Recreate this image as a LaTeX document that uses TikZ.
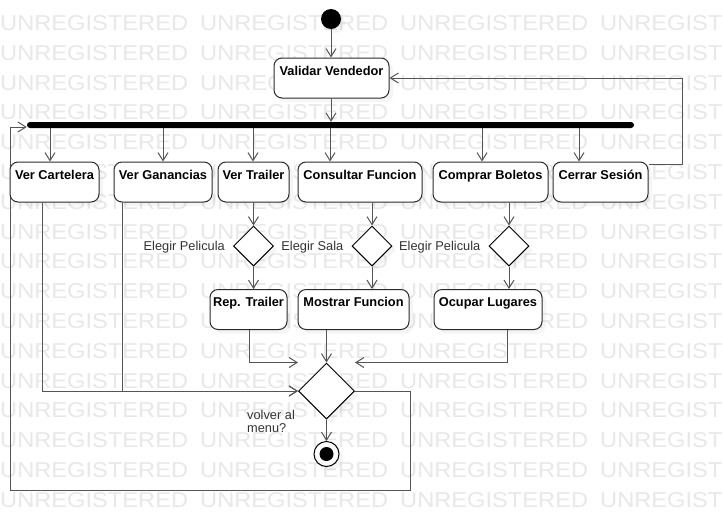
\documentclass[tikz,border=0pt]{standalone}
\usepackage{fontspec}
\setmainfont{Liberation Sans}
\usetikzlibrary{arrows.meta,shadows,shapes.geometric}
\pgfdeclarelayer{marklayer}
\pgfdeclarelayer{linklayer}
\pgfsetlayers{marklayer,linklayer,main}
\definecolor{linkgray}{HTML}{555555}
\definecolor{boxline}{HTML}{2B2B2B}
\definecolor{markgray}{HTML}{E8E8E8}
\definecolor{labelgray}{HTML}{333333}

\tikzset{
  softshadow/.style={drop shadow={shadow xshift=4pt, shadow yshift=-4pt, opacity=0.08}},
  act/.style={draw=boxline, line width=1pt, fill=white, rounded corners=8pt,
    inner xsep=3pt, inner ysep=4pt, text height=13pt, text depth=19pt,
    minimum height=40pt, font=\fontsize{12.8}{14}\selectfont\bfseries, softshadow},
  choice/.style={diamond, draw=black, line width=1pt, fill=white, aspect=1,
    minimum width=40pt, minimum height=40pt, inner sep=0pt, softshadow},
  link/.style={draw=linkgray, line width=1pt, -{Straight Barb[length=8pt,width=10pt]}},
  guard/.style={font=\fontsize{12.8}{13}\selectfont, text=labelgray, inner sep=0pt},
  markword/.style={anchor=base west, inner sep=0pt, text=markgray,
    font=\fontsize{21.5}{22}\selectfont, xscale=1.1},
}

\begin{document}
\begin{tikzpicture}[x=1pt, y=-1pt]
\useasboundingbox (0,0) rectangle (723,531);

% white sheet and background lettering
\begin{pgfonlayer}{marklayer}
  \fill[white] (0,0) rectangle (723,531);
  \begin{scope}
    \clip (0,0) rectangle (723,531);
    \foreach \r in {0,...,16}
      \foreach \c in {0,...,3}
        \node[markword] (w-\r-\c) at (\c*200, 30.5+\r*29.8) {UNREGISTERED};
  \end{scope}
\end{pgfonlayer}

% start, actions and fork bar
\node[circle, fill=black, minimum size=20pt, inner sep=0pt, softshadow] (start) at (331,19) {};
\node[act, minimum width=115pt] (valid) at (331.5,78) {Validar Vendedor};
\node[fill=black, rounded corners=3pt, minimum width=607pt, minimum height=6pt, inner sep=0pt] (bar) at (330.5,125) {};

\node[act, minimum width=89pt]  (cart)  at (54.5,182)  {Ver Cartelera};
\node[act, minimum width=98pt]  (gan)   at (163,182)   {Ver Ganancias};
\node[act, minimum width=71pt]  (trail) at (253.5,182) {Ver Trailer};
\node[act, minimum width=124pt] (cons)  at (360,182)   {Consultar Funcion};
\node[act, minimum width=115pt] (comp)  at (490.5,182) {Comprar Boletos};
\node[act, minimum width=95pt]  (cerr)  at (600.5,182) {Cerrar Sesión};

% decisions
\node[choice] (d1) at (253.5,246) {};
\node[choice] (d2) at (372,246) {};
\node[choice] (d3) at (509,246) {};

\node[guard, anchor=east] (g1) at ([xshift=-8pt, yshift=-1.5pt]d1.west) {Elegir Pelicula};
\node[guard, anchor=east] (g2) at ([xshift=-8pt, yshift=-1.5pt]d2.west) {Elegir Sala};
\node[guard, anchor=east] (g3) at ([xshift=-8pt, yshift=-1.5pt]d3.west) {Elegir Pelicula};

\node[act, minimum width=77pt]  (rep)  at (248.5,309.5) {Rep. Trailer};
\node[act, minimum width=111pt] (most) at (353.5,309.5) {Mostrar Funcion};
\node[act, minimum width=108pt] (ocup) at (488,309.5)   {Ocupar Lugares};

% merge and end
\node[choice, minimum width=56pt, minimum height=56pt] (merge) at (326.5,391) {};
\node[guard, anchor=north west, align=left] (g4) at (247,410.5) {volver al\\menu?};
\node[circle, draw=black, line width=1pt, fill=white, minimum size=25pt, inner sep=0pt, softshadow] (stop) at (326.5,454) {};
\node[circle, fill=black, minimum size=14pt, inner sep=0pt] (stopdot) at (stop) {};

% connectors
\coordinate (k1) at (50,0);
\coordinate (k2) at (163,0);
\coordinate (k3) at (253,0);
\coordinate (k4) at (330,0);
\coordinate (k5) at (482,0);
\coordinate (k6) at (579,0);
\coordinate (m1) at (42,0);
\coordinate (m2) at (122,0);
\coordinate (m3) at (249,0);
\coordinate (m4) at (507,0);
\coordinate (mnw) at (merge.west |- merge.north);
\coordinate (mne) at (merge.east |- merge.north);
\coordinate (ret) at (682,78);
\coordinate (lpA) at (410,490);
\coordinate (lpB) at (10,490);

\begin{pgfonlayer}{linklayer}
  \draw[link] (start.south) -- (valid.north -| start.south);
  \draw[link] (valid.south -| start.south) -- (bar.north -| start.south);
  \foreach \c/\n in {k1/cart, k2/gan, k3/trail, k4/cons, k5/comp, k6/cerr}
    \draw[link] (bar.south -| \c) -- (\n.north -| \c);

  \draw[link] (trail.south -| d1.north) -- (d1.north);
  \draw[link] (d1.south) -- (rep.north -| d1.south);
  \draw[link] (cons.south -| d2.north) -- (d2.north);
  \draw[link] (d2.south) -- (most.north -| d2.south);
  \draw[link] (comp.south -| d3.north) -- (d3.north);
  \draw[link] (d3.south) -- (ocup.north -| d3.south);

  \draw[link] (cart.south -| m1) |- (merge.west);
  \draw[link] (gan.south -| m2) |- (merge.west);
  \draw[link] (rep.south -| m3) |- (mnw);
  \draw[link] (most.south -| merge.north) -- (merge.north);
  \draw[link] (ocup.south -| m4) |- (mne);
  \draw[link] (merge.south) -- (stop.north);

  \draw[link] (merge.east) -| (lpA) -- (lpB) |- ([yshift=-2pt]bar.west);
  \draw[link] ([yshift=-3pt]cerr.north east) -| (ret) -- (valid.east);
\end{pgfonlayer}
\end{tikzpicture}
\end{document}
